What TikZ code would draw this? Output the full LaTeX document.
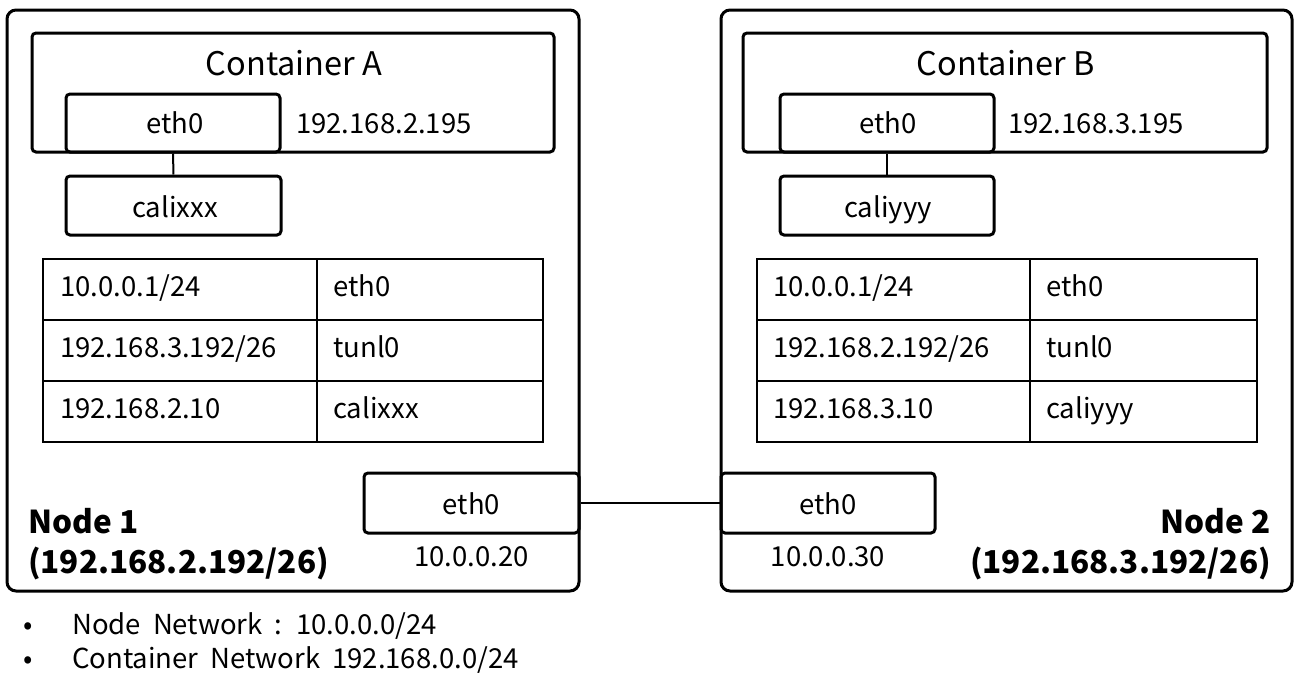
\documentclass[tikz,border=0pt]{standalone}
\usepackage{fontspec}
\setmainfont{Noto Sans CJK KR}
\begin{document}
\begin{tikzpicture}[x=1pt,y=-1pt,
  outer/.style={draw, line width=3pt, rounded corners=9pt, inner sep=0pt},
  box/.style={draw, line width=3pt, rounded corners=4pt, inner sep=0pt},
  txt/.style={inner sep=0pt, anchor=base, font=\fontsize{27.5}{32}\selectfont},
  ltxt/.style={txt, anchor=base west},
  title/.style={inner sep=0pt, anchor=base, font=\fontsize{32.5}{38}\selectfont},
  bold/.style={inner sep=0pt, font=\fontsize{31.5}{38}\selectfont\bfseries},
  tline/.style={line width=2.5pt},
  link/.style={line width=2pt}]
\useasboundingbox (0,0) rectangle (1302,678);

% ---------- Node 1 ----------
\node[outer, minimum width=572pt, minimum height=581pt] (node1) at (293,300.5) {};
\node[box, minimum width=522pt, minimum height=119pt] (contA) at (293,92.5) {};
\node[title] (contAlbl) at (294,75) {Container A};
\node[box, minimum width=214pt, minimum height=58pt] (ethA) at (173,123) {};
\node[txt] (ethAlbl) at (175,133) {eth0};
\node[ltxt] (ipA) at (296,133) {192.168.2.195};
\node[box, minimum width=215pt, minimum height=59pt] (cali) at (173.5,205.5) {};
\node[txt] (calilbl) at (175,217) {calixxx};
\draw[link] (ethA.south) -- (cali.north);

\draw[tline] (43,259) rectangle (543,442);
\draw[tline] (43,320) -- (543,320) (43,381) -- (543,381) (317,259) -- (317,442);
\node[ltxt] (a11) at (60,296) {10.0.0.1/24};
\node[ltxt] (a12) at (333,296) {eth0};
\node[ltxt] (a21) at (60,357) {192.168.3.192/26};
\node[ltxt] (a22) at (333,357) {tunl0};
\node[ltxt] (a31) at (60,418) {192.168.2.10};
\node[ltxt] (a32) at (333,418) {calixxx};

\node[box, minimum width=215pt, minimum height=60pt] (n1eth) at (471.5,503) {};
\node[txt] (n1ethlbl) at (471.5,514) {eth0};
\node[txt] (n1ip) at (471.5,566) {10.0.0.20};
\node[bold, anchor=base west] (n1name) at (28,533) {Node 1};
\node[bold, anchor=base west] (n1net) at (28,573) {(192.168.2.192/26)};

% ---------- Node 2 ----------
\node[outer, minimum width=571pt, minimum height=581pt] (node2) at (1006.5,300.5) {};
\node[box, minimum width=524pt, minimum height=119pt] (contB) at (1005,92.5) {};
\node[title] (contBlbl) at (1006,75) {Container B};
\node[box, minimum width=214pt, minimum height=58pt] (ethB) at (887,123) {};
\node[txt] (ethBlbl) at (888,133) {eth0};
\node[ltxt] (ipB) at (1008,133) {192.168.3.195};
\node[box, minimum width=214pt, minimum height=59pt] (caliy) at (887,205.5) {};
\node[txt] (caliylbl) at (888,217) {caliyyy};
\draw[link] (ethB.south) -- (caliy.north);

\draw[tline] (757,259) rectangle (1257,442);
\draw[tline] (757,320) -- (1257,320) (757,381) -- (1257,381) (1030,259) -- (1030,442);
\node[ltxt] (b11) at (773,296) {10.0.0.1/24};
\node[ltxt] (b12) at (1046,296) {eth0};
\node[ltxt] (b21) at (773,357) {192.168.2.192/26};
\node[ltxt] (b22) at (1046,357) {tunl0};
\node[ltxt] (b31) at (773,418) {192.168.3.10};
\node[ltxt] (b32) at (1046,418) {caliyyy};

\node[box, minimum width=214pt, minimum height=60pt] (n2eth) at (828,503) {};
\node[txt] (n2ethlbl) at (828,514) {eth0};
\node[txt] (n2ip) at (828,566) {10.0.0.30};
\node[bold, anchor=base east] (n2name) at (1271,533) {Node 2};
\node[bold, anchor=base east] (n2net) at (1271,573) {(192.168.3.192/26)};

% ---------- link ----------
\draw[link] (n1eth.east) -- (n2eth.west);

% ---------- legend ----------
\node[txt] (bul1) at (28,634) {•};
\node[ltxt] (leg1) at (72,634) {\spaceskip=12pt\relax Node Network : 10.0.0.0/24};
\node[txt] (bul2) at (28,668) {•};
\node[ltxt] (leg2) at (72,668) {\spaceskip=12pt\relax Container Network 192.168.0.0/24};
\end{tikzpicture}
\end{document}
